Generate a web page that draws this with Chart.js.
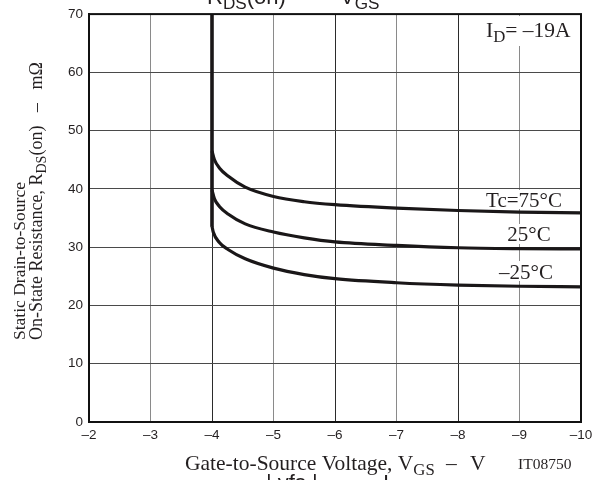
<!DOCTYPE html>
<html lang="en">
<head>
<meta charset="UTF-8">
<title>RDS(on) - VGS</title>
<script src="https://cdn.jsdelivr.net/npm/chart.js"></script>
<style>
    html, body { margin: 0; padding: 0; background: #fff; }
    #wrap { width: 598px; height: 480px; }
</style>
</head>
<body>
<div id="wrap"><canvas id="rdsChart" width="598" height="480"></canvas></div>
<script>
// values (VGS in V, RDS(on) in mOhm)
// below the threshold all three curves run up the VGS = -4 V line
const vgsRise = [-4, -4];
const rdsRise = [70, 33.5];

const vgs75  = [-4,   -4.04, -4.12, -4.26, -4.54, -5,   -5.5, -6,   -7,   -8,   -9,   -10];
const rds75  = [46.5, 45.0,  43.6,  42.2,  40.3,  38.7, 37.8, 37.3, 36.7, 36.3, 36.0, 35.9];

const vgs25  = [-4,   -4.04, -4.12, -4.26, -4.54, -5,   -5.5, -6,   -7,   -8,   -9,    -10];
const rds25  = [39.8, 38.3,  37.0,  35.7,  34.0,  32.6, 31.6, 30.9, 30.3, 29.9, 29.75, 29.7];

const vgsM25 = [-4,   -4.02, -4.12, -4.26, -4.54, -5,   -5.5, -6,   -7,   -8,   -9,   -10];
const rdsM25 = [33.6, 32.6,  30.8,  29.6,  28.0,  26.4, 25.3, 24.6, 23.9, 23.5, 23.3, 23.2];

const xTicks = [-2, -3, -4, -5, -6, -7, -8, -9, -10];
const yTicks = [0, 10, 20, 30, 40, 50, 60, 70];

const curveLabels = ['Tc=75°C', '25°C', '–25°C'];

function toPoints(xs, ys) {
    return xs.map((x, i) => ({ x: x, y: ys[i] }));
}

const SERIF = '"Liberation Serif", "Times New Roman", serif';
const SANS = '"Liberation Sans", Arial, sans-serif';

// draws text pieces, some of them as subscripts
function drawRich(ctx, x, y, parts, size, family) {
    parts.forEach(p => {
        const sub = p[1] === true;
        const fs = sub ? size * 0.78 : size;
        ctx.font = fs + 'px ' + family;
        ctx.fillText(p[0], x, y + (sub ? size * 0.22 : 0));
        x += ctx.measureText(p[0]).width;
    });
    return x;
}

const textPlugin = {
    id: 'textPlugin',
    beforeDatasetsDraw(chart) {
        // white patches behind the notes, covering the grid
        const ctx = chart.ctx;
        ctx.save();
        ctx.fillStyle = '#fff';
        ctx.fillRect(481, 16, 97, 30);
        ctx.fillRect(481, 190, 87, 19);
        ctx.fillRect(503, 224, 52, 20);
        ctx.fillRect(494, 261, 64, 20);
        ctx.restore();
    },
    afterDraw(chart) {
        const ctx = chart.ctx;
        const a = chart.chartArea;
        ctx.save();
        ctx.strokeStyle = '#111';
        ctx.lineWidth = 2;
        ctx.strokeRect(a.left, a.top, a.right - a.left, a.bottom - a.top);

        ctx.fillStyle = '#231f20';
        ctx.textBaseline = 'alphabetic';
        ctx.textAlign = 'left';

        // cut-off headings above and below the chart
        drawRich(ctx, 207, 4, [['R'], ['DS', true], ['(on)']], 22, SANS);
        ctx.font = '22px ' + SANS;
        ctx.fillText('–', 311, 4);
        drawRich(ctx, 340, 4, [['V'], ['GS', true]], 22, SANS);
        ctx.font = '22px ' + SANS;
        ctx.fillText('| yfs |', 266, 490);
        ctx.fillText('–', 350, 490);
        drawRich(ctx, 383, 490, [['I'], ['D', true]], 22, SANS);

        // x axis title
        drawRich(ctx, 185, 470, [['Gate-to-Source Voltage, V'], ['GS', true]], 21.5, SERIF);
        ctx.font = '21.5px ' + SERIF;
        ctx.fillText('–', 446, 470);
        ctx.fillText('V', 470, 470);
        ctx.font = '15.5px ' + SERIF;
        ctx.fillText('IT08750', 518, 469);

        // y axis title
        ctx.save();
        ctx.translate(25, 340);
        ctx.rotate(-Math.PI / 2);
        ctx.font = '17.5px ' + SERIF;
        ctx.fillText('Static Drain-to-Source', 0, 0);
        ctx.translate(0, 17);
        drawRich(ctx, 0, 0, [['On-State Resistance, R'], ['DS', true], ['(on)   –   mΩ']], 18, SERIF);
        ctx.restore();

        // ID note
        drawRich(ctx, 486, 37, [['I'], ['D', true], ['= –19A']], 21.5, SERIF);

        // curve labels
        ctx.font = '21px ' + SERIF;
        ctx.textAlign = 'center';
        ctx.fillText(curveLabels[0], 524, 207);
        ctx.fillText(curveLabels[1], 529, 241);
        ctx.fillText(curveLabels[2], 526, 279);
        ctx.restore();
    }
};

const curveStyle = {
    borderColor: '#1a1718',
    borderWidth: 3.2,
    pointRadius: 0,
    fill: false,
    cubicInterpolationMode: 'monotone'
};

new Chart(document.getElementById('rdsChart'), {
    type: 'line',
    data: {
        datasets: [
            { label: 'rise', data: toPoints(vgsRise, rdsRise), borderColor: '#1a1718', borderWidth: 3.6, pointRadius: 0, tension: 0 },
            Object.assign({ label: curveLabels[0], data: toPoints(vgs75, rds75) }, curveStyle),
            Object.assign({ label: curveLabels[1], data: toPoints(vgs25, rds25) }, curveStyle),
            Object.assign({ label: curveLabels[2], data: toPoints(vgsM25, rdsM25) }, curveStyle)
        ]
    },
    options: {
        responsive: false,
        animation: false,
        devicePixelRatio: 1,
        layout: { padding: { left: 0, right: 17, top: 14, bottom: 0 } },
        plugins: {
            legend: { display: false },
            tooltip: { enabled: false }
        },
        scales: {
            x: {
                type: 'linear',
                reverse: true,
                min: -10,
                max: -2,
                afterFit(scale) { scale.height = 58; },
                afterBuildTicks(scale) { scale.ticks = xTicks.map(v => ({ value: v })); },
                grid: {
                    drawTicks: false,
                    color: c => (Math.abs(c.tick.value) % 2 === 1 ? '#8a8a8a' : '#2b2b2b'),
                    lineWidth: 1
                },
                border: { color: '#111', width: 2 },
                ticks: {
                    padding: 5,
                    color: '#231f20',
                    font: { family: SANS, size: 13.5 },
                    callback: v => '–' + Math.abs(v)
                }
            },
            y: {
                min: 0,
                max: 70,
                afterFit(scale) { scale.width = 89; },
                afterBuildTicks(scale) { scale.ticks = yTicks.map(v => ({ value: v })); },
                grid: {
                    drawTicks: false,
                    color: '#4a4a4a',
                    lineWidth: 1
                },
                border: { color: '#111', width: 2 },
                ticks: {
                    padding: 6,
                    color: '#231f20',
                    font: { family: SANS, size: 13.5 }
                }
            }
        }
    },
    plugins: [textPlugin]
});
</script>
</body>
</html>
